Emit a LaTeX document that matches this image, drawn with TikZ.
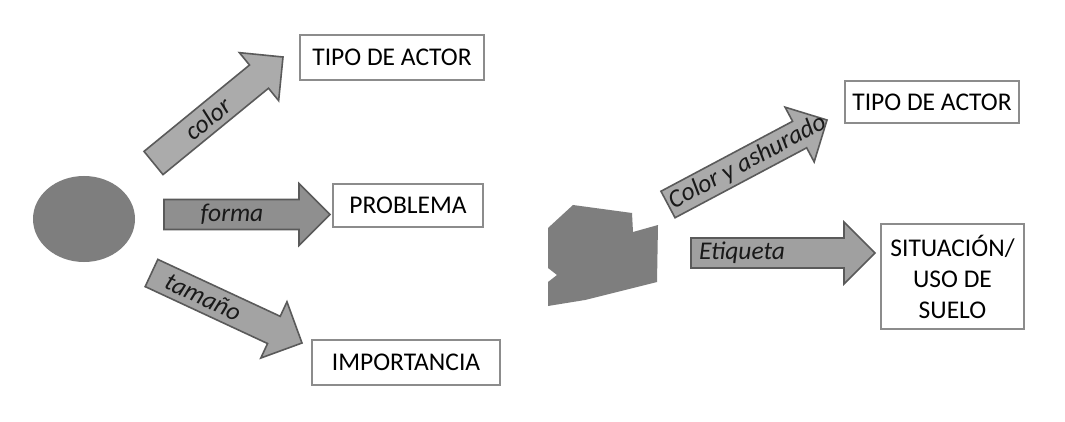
\documentclass[tikz,border=0pt]{standalone}
\usepackage{fontspec}
\setmainfont{Carlito}
\usetikzlibrary{shapes.geometric}
\definecolor{boxgray}{HTML}{8C8C8C}
\definecolor{arrowedge}{HTML}{5A5A5A}
\definecolor{shapegray}{HTML}{7E7E7E}
\definecolor{fillA}{HTML}{ABABAB}
\definecolor{fillB}{HTML}{8F8F8F}
\definecolor{fillC}{HTML}{A3A3A3}
\definecolor{fillD}{HTML}{AAAAAA}
\definecolor{fillE}{HTML}{A0A0A0}
\tikzset{
  box/.style={draw=boxgray, line width=1.4pt, fill=white, inner sep=0pt,
    font=\fontsize{25.5}{31}\selectfont, align=center, text=black},
  fatarrow/.style={draw=arrowedge, line width=1.6pt, line join=miter},
  arrowlabel/.style={font=\fontsize{25.5}{30}\selectfont\itshape, transform shape,
    inner sep=0pt, text=black!90},
}
\newcommand\fatarrow[5]{%
  \pgfpointdiff{\pgfpointanchor{#1}{center}}{\pgfpointanchor{#2}{center}}%
  \pgfgetlastxy{\fadx}{\fady}%
  \pgfmathsetmacro\falen{veclen(\fadx,\fady)}%
  \pgfmathsetmacro\farot{atan2(\fady,\fadx)}%
  \begin{scope}[shift={(#1)}, rotate=\farot, x=1pt, y=1pt]
    \draw[fatarrow, fill=#3] (0,-15) -- ({\falen-31},-15) -- ({\falen-31},-31)
      -- (\falen,0) -- ({\falen-31},31) -- ({\falen-31},15) -- (0,15) -- cycle;
    \node[arrowlabel] (#1-lab) at (#4,0) {#5};
  \end{scope}}
\begin{document}
\begin{tikzpicture}[x=1pt, y=-1pt]
\useasboundingbox[fill=white] (0,0) rectangle (1065,422);

% left figure
\node[ellipse, fill=shapegray, minimum width=102, minimum height=86, inner sep=0pt] (circ) at (84,219) {};
\node[box, minimum width=184, minimum height=45] (tipo1) at (392,57.5) {TIPO DE ACTOR};
\node[box, minimum width=150, minimum height=43] (prob) at (408,205.5) {PROBLEMA};
\node[box, minimum width=188, minimum height=45] (imp) at (406,362.5) {IMPORTANCIA};

\coordinate (a1s) at (153.5,163);  \coordinate (a1e) at (283,57);
\coordinate (a2s) at (164,214.5);  \coordinate (a2e) at (330,214.5);
\coordinate (a3s) at (151.5,273);  \coordinate (a3e) at (302,343);
\fatarrow{a1s}{a1e}{fillA}{70}{color}
\fatarrow{a2s}{a2e}{fillB}{68}{forma}
\fatarrow{a3s}{a3e}{fillC}{57}{tamaño}

% right figure
\fill[shapegray] (548,228) -- (573,205) -- (632,213) -- (633,232) -- (658,225)
  -- (657,282) -- (585,300) -- (548,306) -- (548,282) -- (557,275) -- (548,268) -- cycle;
\node[box, minimum width=174, minimum height=42] (tipo2) at (932,102) {TIPO DE ACTOR};
\node[box, minimum width=143, minimum height=105] (sit) at (952.5,276.5) {SITUACIÓN/\\USO DE\\SUELO};

\coordinate (a4s) at (668,204.5);  \coordinate (a4e) at (827,120);
\coordinate (a5s) at (691,253);    \coordinate (a5e) at (875,253);
\fatarrow{a4s}{a4e}{fillD}{90}{Color y ashurado}
\fatarrow{a5s}{a5e}{fillE}{51}{Etiqueta}
\end{tikzpicture}
\end{document}
